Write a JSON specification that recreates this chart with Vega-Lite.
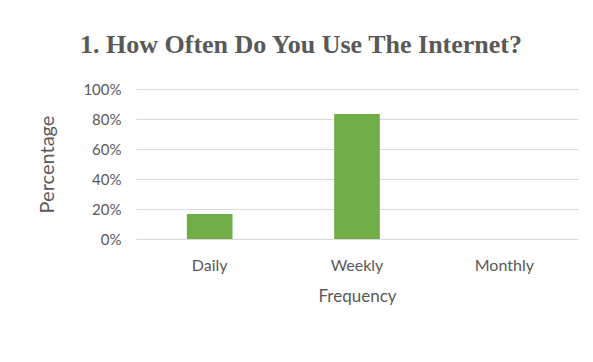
{
  "$schema": "https://vega.github.io/schema/vega-lite/v6.json",
  "width": 442,
  "height": 150,
  "autosize": {"type": "none"},
  "padding": {"left": 136, "top": 89, "right": 15, "bottom": 123},
  "background": "white",
  "title": {
    "text": "1. How Often Do You Use The Internet?",
    "font": "Liberation Serif",
    "fontSize": 26,
    "fontWeight": "bold",
    "color": "#595959",
    "anchor": "middle",
    "dx": -56,
    "offset": 24
  },
  "data": {
    "values": [
      {"Frequency": "Daily", "Percentage": 0.167},
      {"Frequency": "Weekly", "Percentage": 0.833},
      {"Frequency": "Monthly", "Percentage": 0}
    ]
  },
  "mark": {"type": "bar", "color": "#70AD47"},
  "encoding": {
    "x": {
      "field": "Frequency",
      "type": "nominal",
      "sort": ["Daily", "Weekly", "Monthly"],
      "scale": {"paddingInner": 0.69, "paddingOuter": 0.345},
      "axis": {
        "title": "Frequency",
        "labelAngle": 0,
        "ticks": false,
        "tickSize": 0,
        "domain": false,
        "labelPadding": 18,
        "labelFont": "Lato",
        "labelFontSize": 16,
        "labelColor": "#595959",
        "titleFont": "Lato",
        "titleFontSize": 17,
        "titleFontWeight": "normal",
        "titleColor": "#595959",
        "titlePadding": 15
      }
    },
    "y": {
      "field": "Percentage",
      "type": "quantitative",
      "scale": {"domain": [0, 1]},
      "axis": {
        "title": "Percentage",
        "format": ".0%",
        "values": [0, 0.2, 0.4, 0.6, 0.8, 1],
        "ticks": false,
        "tickSize": 0,
        "domain": false,
        "grid": true,
        "gridColor": "#d9d9d9",
        "gridWidth": 1.2,
        "labelPadding": 15,
        "labelFont": "Lato",
        "labelFontSize": 15,
        "labelColor": "#595959",
        "titleFont": "Lato",
        "titleFontSize": 20,
        "titleFontWeight": "normal",
        "titleColor": "#595959",
        "titlePadding": 25
      }
    }
  },
  "config": {"view": {"stroke": null}}
}
